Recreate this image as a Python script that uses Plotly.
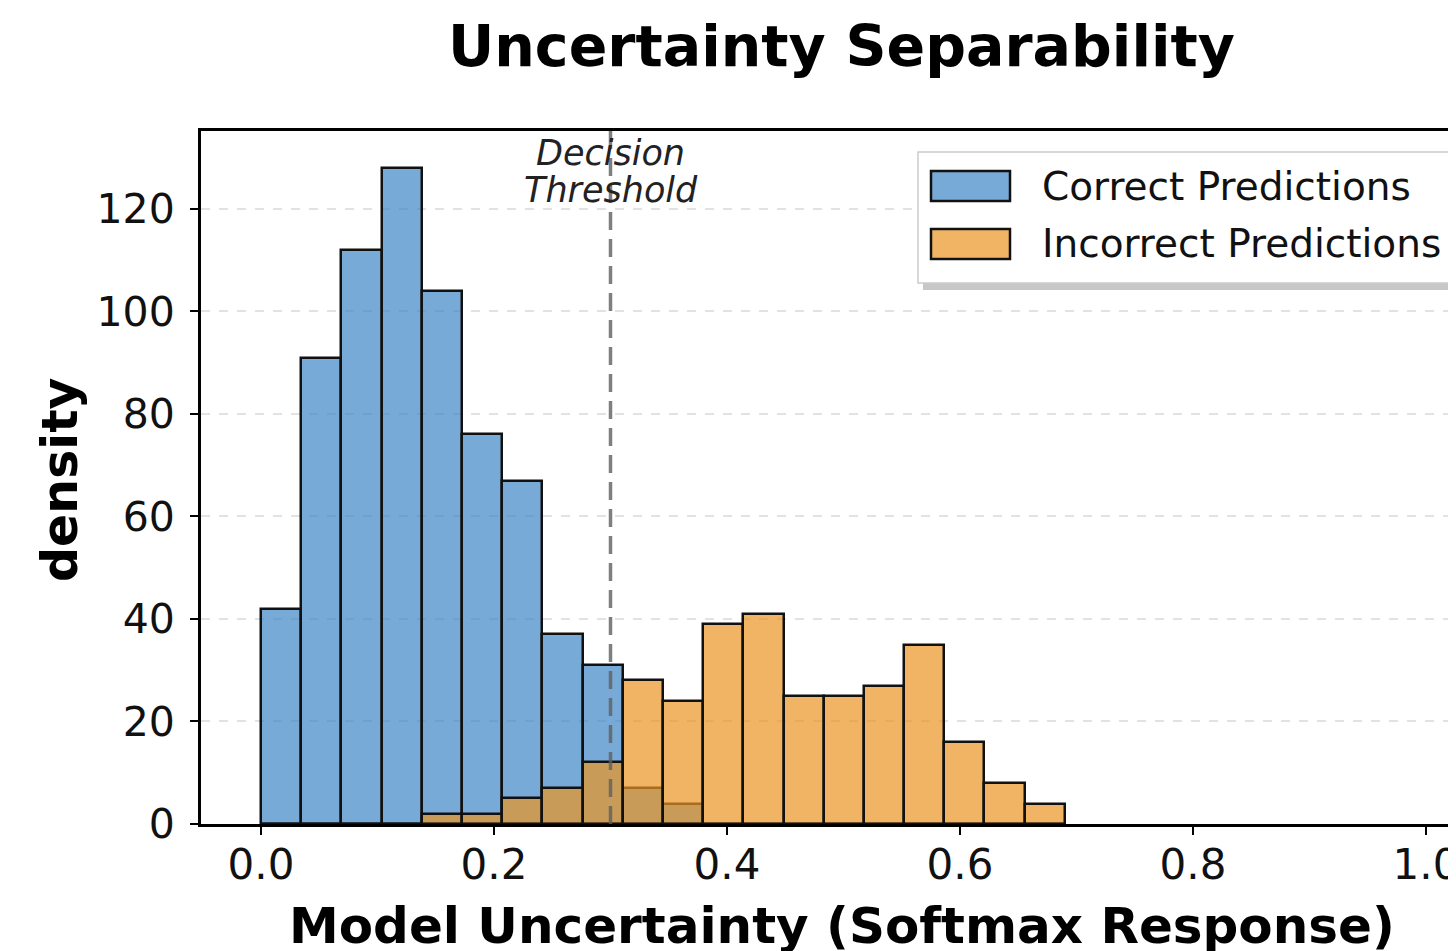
import plotly.graph_objects as go

# ---- data ----
bin_start = 0.0
bin_width = 0.0345
correct_density = [42, 91, 112, 128, 104, 76, 67, 37, 31, 7, 4, 0, 0, 0, 0, 0, 0, 0, 0, 0]
incorrect_density = [0, 0, 0, 0, 2, 2, 5, 7, 12, 28, 24, 39, 41, 25, 25, 27, 35, 16, 8, 4]
x_ticks = [0.0, 0.2, 0.4, 0.6, 0.8, 1.0]
y_ticks = [0, 20, 40, 60, 80, 100, 120]
threshold = 0.3
series_names = ["Correct Predictions", "Incorrect Predictions"]

bin_centers = [bin_start + (i + 0.5) * bin_width for i in range(len(correct_density))]

# ---- layout geometry (screen pixels; page body has an 8px offset) ----
OFF = 8
W, H = 1480, 951
SL, ST, SR, SB = 201, 131, 1482, 824   # plot area on screen
FONT = "DejaVu Sans"
BLUE = "rgba(62,134,198,0.7)"
ORANGE = "rgba(234,148,34,0.7)"
X0_PX, PX_PER_UNIT = 261, 1165


def px(p):
    return (p - SL) / (SR - SL)


def py(p):
    return (SB - p) / (SB - ST)


fig = go.Figure()
fig.add_trace(go.Bar(x=bin_centers, y=correct_density, width=bin_width,
                     marker=dict(color=BLUE, line=dict(color="#111111", width=2.5)),
                     name=series_names[0], showlegend=False))
fig.add_trace(go.Bar(x=bin_centers, y=incorrect_density, width=bin_width,
                     marker=dict(color=ORANGE, line=dict(color="#111111", width=2.5)),
                     name=series_names[1], showlegend=False))

shapes = []
# decision threshold
shapes.append(dict(type="line", xref="x", yref="paper", x0=threshold, x1=threshold, y0=0, y1=1,
                   line=dict(color="rgba(95,95,95,0.8)", width=3.5, dash="18px,9px"), layer="above"))
# legend shadow + frame
shapes.append(dict(type="rect", xref="paper", yref="paper", x0=px(923), x1=px(1500), y0=py(158), y1=py(290),
                   fillcolor="rgba(0,0,0,0.22)", line=dict(width=0), layer="above"))
shapes.append(dict(type="rect", xref="paper", yref="paper", x0=px(918), x1=px(1495), y0=py(152), y1=py(283),
                   fillcolor="white", line=dict(color="#cccccc", width=1.5), layer="above"))
# legend patches
shapes.append(dict(type="rect", xref="paper", yref="paper", x0=px(931), x1=px(1010), y0=py(171), y1=py(201),
                   fillcolor=BLUE, line=dict(color="#111111", width=2.5), layer="above"))
shapes.append(dict(type="rect", xref="paper", yref="paper", x0=px(931), x1=px(1010), y0=py(229), y1=py(259),
                   fillcolor=ORANGE, line=dict(color="#111111", width=2.5), layer="above"))

annotations = [
    dict(text="<b>Uncertainty Separability</b>", xref="paper", yref="paper", x=px(841.5), y=py(46),
         showarrow=False, xanchor="center", yanchor="middle", font=dict(family=FONT, size=57, color="black")),
    dict(text="<b>Model Uncertainty (Softmax Response)</b>", xref="paper", yref="paper", x=px(841.5), y=py(926),
         showarrow=False, xanchor="center", yanchor="middle", font=dict(family=FONT, size=50, color="black")),
    dict(text="<b>density</b>", xref="paper", yref="paper", x=px(60), y=py(480), textangle=-90,
         showarrow=False, xanchor="center", yanchor="middle", font=dict(family=FONT, size=49, color="black")),
    dict(text="Decision", xref="x", yref="paper", x=threshold, y=py(153), showarrow=False,
         xanchor="center", yanchor="middle", font=dict(family=FONT, size=35, color="#222222", style="italic")),
    dict(text="Threshold", xref="x", yref="paper", x=threshold, y=py(190), showarrow=False,
         xanchor="center", yanchor="middle", font=dict(family=FONT, size=35, color="#222222", style="italic")),
    dict(text=series_names[0], xref="paper", yref="paper", x=px(1040), y=py(186), showarrow=False,
         xanchor="left", yanchor="middle", font=dict(family=FONT, size=39, color="#111111")),
    dict(text=series_names[1], xref="paper", yref="paper", x=px(1040), y=py(244), showarrow=False,
         xanchor="left", yanchor="middle", font=dict(family=FONT, size=39, color="#111111")),
]

fig.update_layout(
    width=W, height=H,
    margin=dict(l=SL - OFF, r=W - (SR - OFF), t=ST - OFF, b=H - (SB - OFF), autoexpand=False, pad=0),
    paper_bgcolor="white", plot_bgcolor="white",
    barmode="overlay", bargap=0, showlegend=False,
    font=dict(family=FONT, size=42, color="#111111"),
    shapes=shapes, annotations=annotations,
)
fig.update_xaxes(range=[(SL - X0_PX) / PX_PER_UNIT, (SR - X0_PX) / PX_PER_UNIT],
                 tickvals=x_ticks, ticktext=[f"{v:.1f}" for v in x_ticks], ticklabeloverflow="allow",
                 showgrid=False, zeroline=False, showline=True, linecolor="black", linewidth=3, mirror=True,
                 ticks="outside", ticklen=8, tickwidth=2, tickcolor="black", ticklabelstandoff=-6,
                 tickfont=dict(family=FONT, size=42, color="#111111"))
fig.update_yaxes(range=[0, 135.2], tickvals=y_ticks, showgrid=True, gridcolor="#e2e2e2", gridwidth=1.5,
                 griddash="dash", zeroline=False, showline=True, linecolor="black", linewidth=3,
                 ticks="outside", ticklen=8, tickwidth=2, tickcolor="black", ticklabelstandoff=7,
                 tickfont=dict(family=FONT, size=41, color="#111111"))

fig.write_html("out.html")
